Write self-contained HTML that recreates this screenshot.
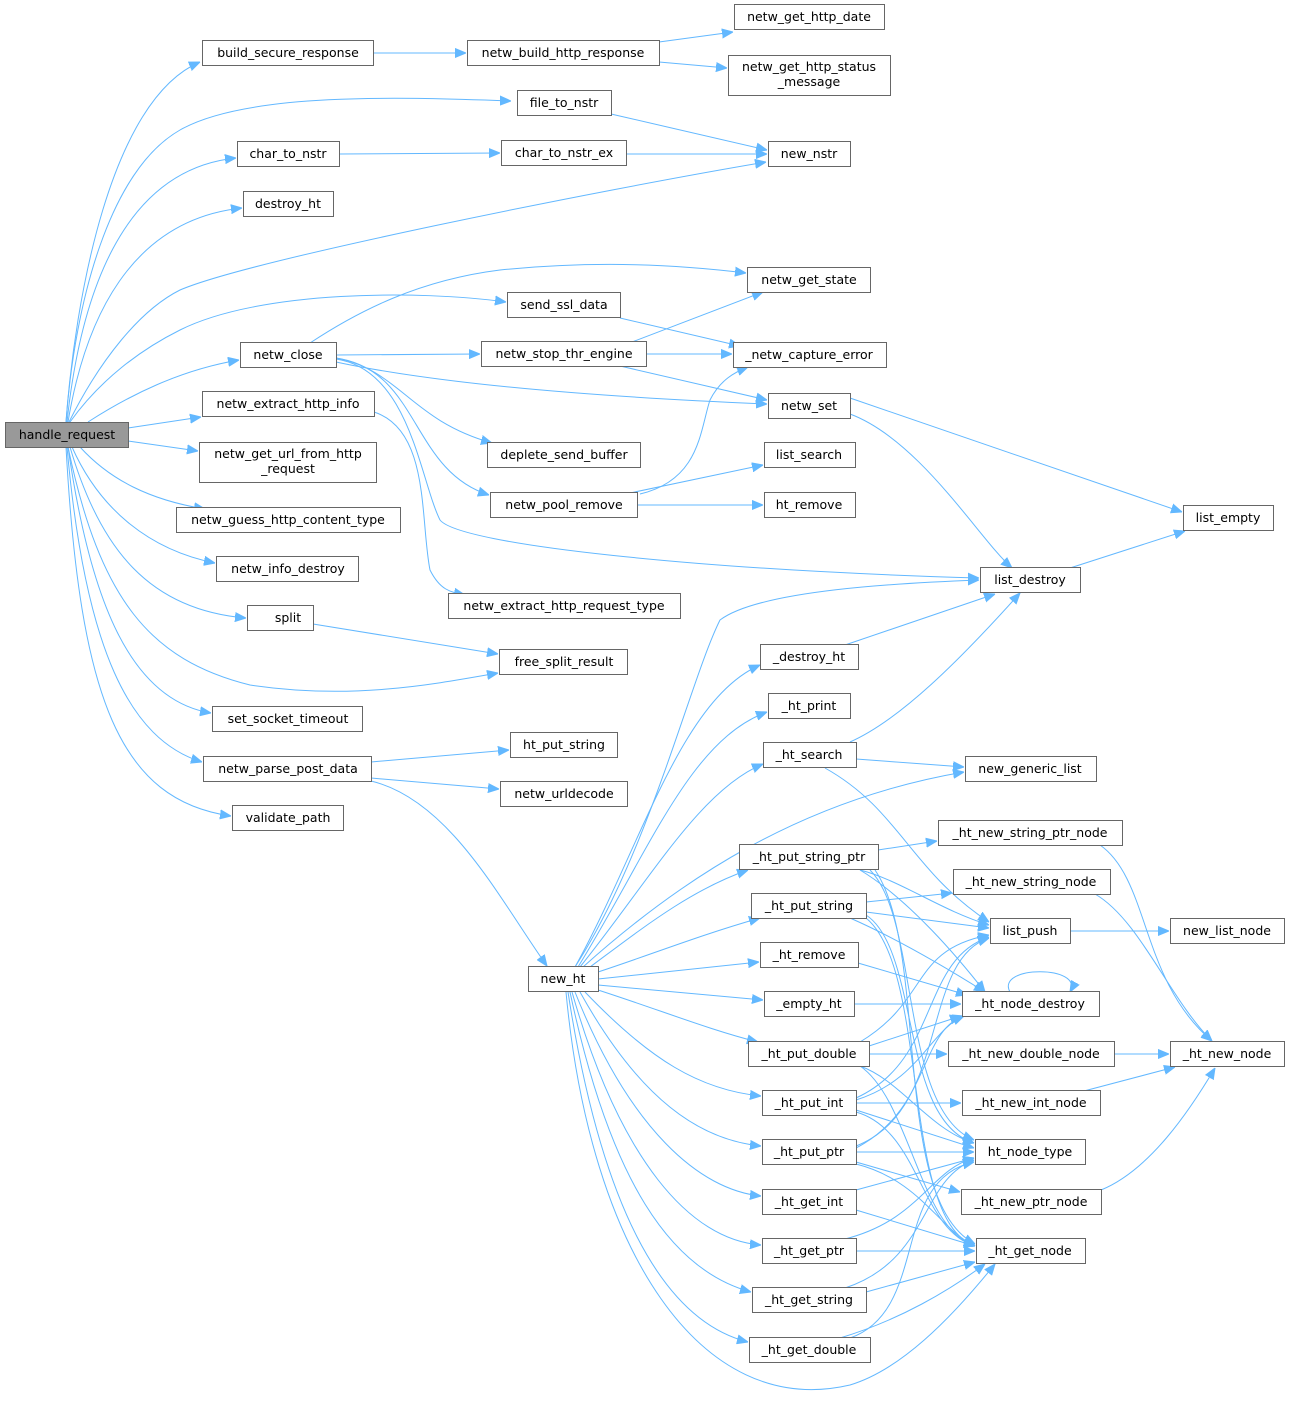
<!DOCTYPE html>
<html><head><meta charset="utf-8"><style>
html,body{margin:0;padding:0;background:#fff;}
svg{display:block;}
text{font-family:"DejaVu Sans","Liberation Sans",sans-serif;font-size:12.5px;fill:#000;text-anchor:middle;}
rect{fill:#fff;stroke:#666;stroke-width:1;}
path{fill:none;stroke:#63b8ff;stroke-width:1;marker-end:url(#a);}
</style></head><body>
<svg width="1291" height="1408" viewBox="0 0 1291 1408">
<defs><marker id="a" viewBox="0 0 11 10" refX="11" refY="5" markerWidth="11" markerHeight="10" markerUnits="userSpaceOnUse" orient="auto"><path d="M0,0.5 L11,5 L0,9.5 z" style="fill:#63b8ff;stroke:#63b8ff;marker-end:none"/></marker></defs>

<path d="M66,422 C75,300 110,100 200,62"/>
<path d="M66,422 C75,300 110,170 180,130 C250,90 420,98 511,101"/>
<path d="M67,422 C80,300 120,170 236,158"/>
<path d="M68,422 C85,320 130,220 242,208"/>
<path d="M69,422 C100,360 140,310 180,290 C250,260 600,190 766,162"/>
<path d="M70,422 C100,380 140,350 180,330 C260,290 420,290 506,302"/>
<path d="M88,422 C130,395 180,370 239,360"/>
<path d="M128,428 L201,417"/>
<path d="M128,441 L198,451"/>
<path d="M80,447 C110,480 150,500 205,509"/>
<path d="M72,447 C100,510 150,550 215,563"/>
<path d="M70,447 C100,550 150,610 246,618"/>
<path d="M68,447 C100,600 150,660 250,685 C350,700 430,685 498,673"/>
<path d="M68,447 C90,600 130,700 211,713"/>
<path d="M67,447 C85,650 130,740 202,762"/>
<path d="M66,447 C80,700 120,800 231,816"/>

<path d="M373,53 L466,53"/>
<path d="M659,42 L733,32"/>
<path d="M659,62 L727,68"/>
<path d="M611,114 L767,150"/>
<path d="M339,154 L500,153"/>
<path d="M626,154 L767,154"/>
<path d="M310,343 C360,310 420,280 500,270 C600,260 680,265 746,273"/>
<path d="M620,318 L740,346"/>
<path d="M336,355 L480,354"/>
<path d="M632,342 L763,292"/>
<path d="M646,354 L732,354"/>
<path d="M620,366 L767,400"/>
<path d="M336,362 C420,380 550,395 767,404"/>
<path d="M336,358 C400,370 410,420 492,443"/>
<path d="M336,358 C420,370 410,470 489,495"/>
<path d="M336,359 C410,370 420,480 440,520 C460,545 700,570 979,578"/>
<path d="M374,412 C430,430 420,520 430,570 C440,590 450,592 465,595"/>
<path d="M630,493 L763,465"/>
<path d="M637,505 L763,505"/>
<path d="M640,494 C700,480 700,430 710,400 C720,380 735,372 748,367"/>
<path d="M850,398 L1182,512"/>
<path d="M850,414 C920,440 980,540 1012,568"/>
<path d="M1070,568 L1185,531"/>
<path d="M313,624 L498,654"/>
<path d="M371,762 L509,750"/>
<path d="M371,778 L499,789"/>
<path d="M371,781 C450,800 500,900 547,966"/>

<path d="M575,967 C650,850 690,680 720,620 C760,590 900,583 979,580"/>
<path d="M575,967 C640,850 680,700 760,665"/>
<path d="M578,967 C650,850 690,740 767,712"/>
<path d="M580,967 C650,880 700,790 763,764"/>
<path d="M583,967 C680,880 800,800 964,772"/>
<path d="M590,967 C640,930 690,890 748,870"/>
<path d="M598,972 C650,955 700,935 760,918"/>
<path d="M598,979 L759,962"/>
<path d="M598,985 L763,1000"/>
<path d="M598,990 C660,1010 710,1030 758,1042"/>
<path d="M585,992 C650,1060 700,1090 761,1096"/>
<path d="M580,992 C640,1100 700,1140 761,1146"/>
<path d="M575,992 C630,1130 700,1190 761,1196"/>
<path d="M572,992 C620,1160 690,1240 761,1245"/>
<path d="M570,992 C610,1180 670,1270 751,1292"/>
<path d="M568,992 C600,1200 660,1320 748,1342"/>
<path d="M566,992 C590,1250 700,1420 850,1385 C900,1370 950,1320 995,1264"/>

<path d="M845,645 L995,594"/>
<path d="M850,742 C900,720 960,660 1020,593"/>
<path d="M856,759 L964,767"/>
<path d="M825,768 C900,810 910,870 989,922"/>
<path d="M878,850 L937,841"/>
<path d="M860,870 C900,880 940,910 989,925"/>
<path d="M860,870 C910,900 960,960 985,992"/>
<path d="M870,870 C920,920 900,1110 974,1140"/>
<path d="M875,870 C930,950 890,1200 975,1244"/>
<path d="M866,902 L952,893"/>
<path d="M866,912 L989,928"/>
<path d="M850,918 C900,940 950,970 985,992"/>
<path d="M866,915 C920,950 900,1120 974,1143"/>
<path d="M866,918 C930,970 900,1220 975,1246"/>
<path d="M858,963 L967,995"/>
<path d="M854,1004 L961,1004"/>
<path d="M1010,992 C995,965 1085,965 1070,992"/>
<path d="M860,1042 C930,1000 910,950 989,935"/>
<path d="M869,1046 L961,1016"/>
<path d="M869,1054 L947,1054"/>
<path d="M860,1066 C900,1080 930,1130 974,1143"/>
<path d="M860,1066 C910,1100 920,1230 975,1246"/>
<path d="M856,1098 C940,1060 920,960 989,937"/>
<path d="M856,1100 C920,1080 930,1030 964,1016"/>
<path d="M856,1103 L961,1103"/>
<path d="M856,1110 L974,1148"/>
<path d="M856,1112 C920,1130 920,1230 975,1246"/>
<path d="M856,1146 C950,1110 920,960 989,938"/>
<path d="M856,1148 C930,1110 920,1030 964,1016"/>
<path d="M856,1152 L974,1152"/>
<path d="M856,1162 L960,1192"/>
<path d="M856,1164 C920,1180 940,1230 975,1246"/>
<path d="M856,1190 L974,1158"/>
<path d="M856,1210 L975,1246"/>
<path d="M845,1239 C920,1220 930,1170 974,1158"/>
<path d="M856,1251 L975,1251"/>
<path d="M845,1288 C930,1260 920,1180 974,1160"/>
<path d="M866,1292 L975,1262"/>
<path d="M850,1338 C930,1310 890,1180 974,1162"/>
<path d="M840,1338 C900,1320 950,1290 985,1264"/>
<path d="M1070,931 L1169,931"/>
<path d="M1100,845 C1150,880 1140,980 1212,1041"/>
<path d="M1095,894 C1140,920 1170,1000 1212,1041"/>
<path d="M1114,1054 L1169,1054"/>
<path d="M1084,1091 L1175,1067"/>
<path d="M1101,1190 C1150,1170 1190,1110 1215,1068"/>

<rect x="5.5" y="422.5" width="123" height="25" style="fill:#999"/><text x="67" y="439">handle_request</text>
<rect x="202.5" y="40.5" width="171" height="25"/><text x="288" y="57">build_secure_response</text>
<rect x="467.5" y="40.5" width="192" height="25"/><text x="563" y="57">netw_build_http_response</text>
<rect x="734.5" y="4.5" width="150" height="25"/><text x="809" y="21">netw_get_http_date</text>
<rect x="728.5" y="55.5" width="162" height="40"/><text x="809" y="71">netw_get_http_status</text><text x="809" y="86">_message</text>
<rect x="517.5" y="90.5" width="94" height="25"/><text x="564" y="107">file_to_nstr</text>
<rect x="237.5" y="141.5" width="102" height="25"/><text x="288" y="158">char_to_nstr</text>
<rect x="501.5" y="140.5" width="125" height="25"/><text x="564" y="157">char_to_nstr_ex</text>
<rect x="768.5" y="141.5" width="82" height="25"/><text x="809" y="158">new_nstr</text>
<rect x="243.5" y="191.5" width="90" height="25"/><text x="288" y="208">destroy_ht</text>
<rect x="747.5" y="267.5" width="123" height="25"/><text x="809" y="284">netw_get_state</text>
<rect x="507.5" y="292.5" width="113" height="25"/><text x="564" y="309">send_ssl_data</text>
<rect x="240.5" y="342.5" width="96" height="25"/><text x="288" y="359">netw_close</text>
<rect x="481.5" y="341.5" width="165" height="25"/><text x="564" y="358">netw_stop_thr_engine</text>
<rect x="733.5" y="342.5" width="153" height="25"/><text x="809" y="359">_netw_capture_error</text>
<rect x="202.5" y="391.5" width="172" height="25"/><text x="288" y="408">netw_extract_http_info</text>
<rect x="768.5" y="393.5" width="82" height="25"/><text x="809" y="410">netw_set</text>
<rect x="199.5" y="442.5" width="177" height="40"/><text x="288" y="458">netw_get_url_from_http</text><text x="288" y="473">_request</text>
<rect x="487.5" y="442.5" width="153" height="25"/><text x="564" y="459">deplete_send_buffer</text>
<rect x="764.5" y="442.5" width="91" height="25"/><text x="809" y="459">list_search</text>
<rect x="490.5" y="492.5" width="147" height="25"/><text x="564" y="509">netw_pool_remove</text>
<rect x="764.5" y="492.5" width="91" height="25"/><text x="809" y="509">ht_remove</text>
<rect x="1183.5" y="505.5" width="90" height="25"/><text x="1228" y="522">list_empty</text>
<rect x="176.5" y="507.5" width="224" height="25"/><text x="288" y="524">netw_guess_http_content_type</text>
<rect x="216.5" y="556.5" width="142" height="25"/><text x="288" y="573">netw_info_destroy</text>
<rect x="980.5" y="567.5" width="100" height="25"/><text x="1030" y="584">list_destroy</text>
<rect x="448.5" y="593.5" width="232" height="25"/><text x="564" y="610">netw_extract_http_request_type</text>
<rect x="247.5" y="605.5" width="66" height="25"/><text x="288" y="622">split</text>
<rect x="499.5" y="649.5" width="128" height="25"/><text x="564" y="666">free_split_result</text>
<rect x="760.5" y="644.5" width="98" height="25"/><text x="809" y="661">_destroy_ht</text>
<rect x="212.5" y="706.5" width="150" height="25"/><text x="288" y="723">set_socket_timeout</text>
<rect x="768.5" y="693.5" width="82" height="25"/><text x="809" y="710">_ht_print</text>
<rect x="510.5" y="732.5" width="107" height="25"/><text x="564" y="749">ht_put_string</text>
<rect x="763.5" y="742.5" width="93" height="25"/><text x="809" y="759">_ht_search</text>
<rect x="203.5" y="756.5" width="168" height="25"/><text x="288" y="773">netw_parse_post_data</text>
<rect x="965.5" y="756.5" width="131" height="25"/><text x="1030" y="773">new_generic_list</text>
<rect x="500.5" y="781.5" width="127" height="25"/><text x="564" y="798">netw_urldecode</text>
<rect x="232.5" y="805.5" width="111" height="25"/><text x="288" y="822">validate_path</text>
<rect x="938.5" y="820.5" width="184" height="25"/><text x="1030" y="837">_ht_new_string_ptr_node</text>
<rect x="739.5" y="844.5" width="139" height="25"/><text x="809" y="861">_ht_put_string_ptr</text>
<rect x="953.5" y="869.5" width="157" height="25"/><text x="1031" y="886">_ht_new_string_node</text>
<rect x="751.5" y="893.5" width="115" height="25"/><text x="809" y="910">_ht_put_string</text>
<rect x="990.5" y="918.5" width="80" height="25"/><text x="1030" y="935">list_push</text>
<rect x="1170.5" y="918.5" width="114" height="25"/><text x="1227" y="935">new_list_node</text>
<rect x="528.5" y="966.5" width="70" height="25"/><text x="563" y="983">new_ht</text>
<rect x="760.5" y="942.5" width="98" height="25"/><text x="809" y="959">_ht_remove</text>
<rect x="764.5" y="991.5" width="90" height="25"/><text x="809" y="1008">_empty_ht</text>
<rect x="962.5" y="991.5" width="137" height="25"/><text x="1030" y="1008">_ht_node_destroy</text>
<rect x="748.5" y="1041.5" width="121" height="25"/><text x="809" y="1058">_ht_put_double</text>
<rect x="948.5" y="1041.5" width="166" height="25"/><text x="1031" y="1058">_ht_new_double_node</text>
<rect x="1170.5" y="1041.5" width="114" height="25"/><text x="1227" y="1058">_ht_new_node</text>
<rect x="762.5" y="1090.5" width="94" height="25"/><text x="809" y="1107">_ht_put_int</text>
<rect x="962.5" y="1090.5" width="138" height="25"/><text x="1031" y="1107">_ht_new_int_node</text>
<rect x="762.5" y="1139.5" width="94" height="25"/><text x="809" y="1156">_ht_put_ptr</text>
<rect x="975.5" y="1139.5" width="110" height="25"/><text x="1030" y="1156">ht_node_type</text>
<rect x="762.5" y="1189.5" width="94" height="25"/><text x="809" y="1206">_ht_get_int</text>
<rect x="961.5" y="1189.5" width="140" height="25"/><text x="1031" y="1206">_ht_new_ptr_node</text>
<rect x="762.5" y="1238.5" width="94" height="25"/><text x="809" y="1255">_ht_get_ptr</text>
<rect x="976.5" y="1238.5" width="109" height="25"/><text x="1030" y="1255">_ht_get_node</text>
<rect x="752.5" y="1287.5" width="114" height="25"/><text x="809" y="1304">_ht_get_string</text>
<rect x="749.5" y="1337.5" width="121" height="25"/><text x="809" y="1354">_ht_get_double</text>
</svg>
</body></html>
